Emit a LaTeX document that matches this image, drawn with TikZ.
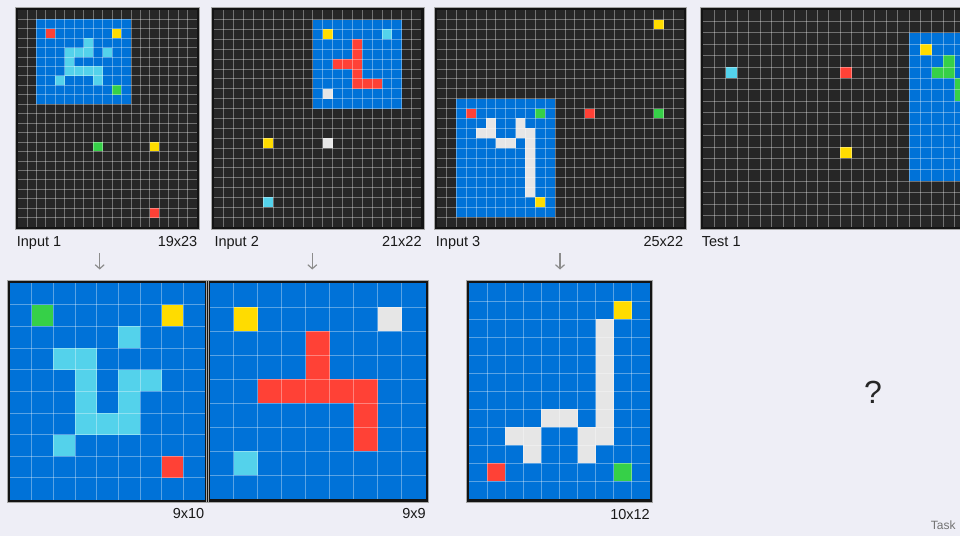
\documentclass[tikz,border=0pt]{standalone}
\usepackage{fontspec}
\setmainfont{Liberation Sans}
\usetikzlibrary{arrows.meta, positioning}
\definecolor{pagebg}{RGB}{238,238,246}
\definecolor{arcblack}{RGB}{38,38,38}
\definecolor{arcblue}{RGB}{0,114,216}
\definecolor{arcred}{RGB}{255,65,54}
\definecolor{arcgreen}{RGB}{54,208,72}
\definecolor{arcyellow}{RGB}{255,220,0}
\definecolor{arccyan}{RGB}{84,210,235}
\definecolor{arcgrey}{RGB}{230,230,230}
\definecolor{framedark}{RGB}{20,20,20}
\definecolor{arrowgrey}{RGB}{140,140,140}
\tikzset{
  gridline/.style={white, opacity=0.35, line width=0.8pt},
  inbox/.style={rectangle, draw=framedark, line width=2.4pt, inner sep=0pt},
  outbox/.style={rectangle, draw=framedark, line width=3pt, inner sep=0pt},
  rim/.style={draw=black!35, line width=0.6pt},
  lbl/.style={font=\fontsize{14.5}{16}\selectfont, text=black!90, inner sep=0pt},
  tasklbl/.style={font=\fontsize{12}{14}\selectfont, text=black!55, inner sep=0pt},
  querylbl/.style={font=\fontsize{32}{36}\selectfont, text=black!85, inner sep=0pt},
  downarrow/.style={-{Straight Barb[length=4pt, width=9pt]}, line width=1.2pt, color=arrowgrey}
}
% cells of one colour, given as col/row
\newcommand{\cells}[2]{\foreach \c/\r in {#2} \fill[#1] (\c,\r) rectangle ++(1,1);}
% inner lines of a cols x rows grid
\newcommand{\cellgrid}[2]{%
  \pgfmathtruncatemacro{\lastc}{#1-1}%
  \pgfmathtruncatemacro{\lastr}{#2-1}%
  \foreach \i in {1,...,\lastc} \draw[gridline] (\i,0) -- (\i,#2);
  \foreach \j in {1,...,\lastr} \draw[gridline] (0,\j) -- (#1,\j);
}

\begin{document}
\begin{tikzpicture}[x=1pt, y=-1pt]
  \path[use as bounding box, fill=pagebg] (0,0) rectangle (960,536);
  \clip (0,0) rectangle (960,536);

  % Input 1
  \begin{scope}[shift={(17.5,9.7)}, x=9.45pt, y=-9.45pt]
    \fill[arcblack] (0,0) rectangle (19,23);
    \fill[arcblue] (2,1) rectangle (12,10);
    \cells{arcred}{3/2, 14/21}
    \cells{arcyellow}{10/2, 14/14}
    \cells{arcgreen}{10/8, 8/14}
    \cells{arccyan}{7/3, 5/4, 6/4, 7/4, 9/4, 5/5, 5/6, 6/6, 7/6, 8/6, 4/7, 8/7}
    \cellgrid{19}{23}
    \node[inbox, minimum width=181.95pt, minimum height=219.75pt] (in1) at (9.5,11.5) {};
  \end{scope}

  % Input 2
  \begin{scope}[shift={(214,9.7)}, x=9.88pt, y=-9.88pt]
    \fill[arcblack] (0,0) rectangle (21,22);
    \fill[arcblue] (10,1) rectangle (19,10);
    \cells{arcyellow}{11/2, 5/13}
    \cells{arccyan}{17/2, 5/19}
    \cells{arcgrey}{11/8, 11/13}
    \cells{arcred}{14/3, 14/4, 12/5, 13/5, 14/5, 14/6, 14/7, 15/7, 16/7}
    \cellgrid{21}{22}
    \node[inbox, minimum width=209.88pt, minimum height=219.76pt] (in2) at (10.5,11) {};
  \end{scope}

  % Input 3
  \begin{scope}[shift={(436.5,9.7)}, x=9.88pt, y=-9.88pt]
    \fill[arcblack] (0,0) rectangle (25,22);
    \fill[arcblue] (2,9) rectangle (12,21);
    \cells{arcyellow}{22/1, 10/19}
    \cells{arcred}{3/10, 15/10}
    \cells{arcgreen}{10/10, 22/10}
    \cells{arcgrey}{5/11, 8/11, 4/12, 5/12, 8/12, 9/12, 6/13, 7/13, 9/13, 9/14, 9/15, 9/16, 9/17, 9/18}
    \cellgrid{25}{22}
    \node[inbox, minimum width=249.4pt, minimum height=219.76pt] (in3) at (12.5,11) {};
  \end{scope}

  % Test 1
  \begin{scope}[shift={(703,9.7)}, x=11.44pt, y=-11.44pt]
    \fill[arcblack] (0,0) rectangle (24,19);
    \fill[arcblue] (18,2) rectangle (24,15);
    \cells{arccyan}{2/5}
    \cells{arcred}{12/5}
    \cells{arcyellow}{12/12, 19/3}
    \cells{arcgreen}{21/4, 20/5, 21/5, 22/6, 22/7}
    \cellgrid{24}{19}
    \node[inbox, minimum width=276.96pt, minimum height=219.76pt] (test1) at (12,9.5) {};
  \end{scope}

  % Output 1
  \begin{scope}[shift={(10,283)}, x=21.65pt, y=-21.65pt]
    \fill[arcblue] (0,0) rectangle (9,10);
    \cells{arcgreen}{1/1}
    \cells{arcyellow}{7/1}
    \cells{arcred}{7/8}
    \cells{arccyan}{5/2, 2/3, 3/3, 3/4, 5/4, 6/4, 3/5, 5/5, 3/6, 4/6, 5/6, 2/7}
    \cellgrid{9}{10}
    \node[outbox, minimum width=197.85pt, minimum height=219.5pt] (out1) at (4.5,5) {};
  \end{scope}

  % Output 2
  \begin{scope}[shift={(209.7,283)}, x=24pt, y=-24pt]
    \fill[arcblue] (0,0) rectangle (9,9);
    \cells{arcyellow}{1/1}
    \cells{arcgrey}{7/1}
    \cells{arccyan}{1/7}
    \cells{arcred}{4/2, 4/3, 2/4, 3/4, 4/4, 5/4, 6/4, 6/5, 6/6}
    \cellgrid{9}{9}
    \node[outbox, minimum width=219pt, minimum height=219pt] (out2) at (4.5,4.5) {};
  \end{scope}

  % Output 3
  \begin{scope}[shift={(469.3,283)}, x=18.04pt, y=-18.04pt]
    \fill[arcblue] (0,0) rectangle (10,12);
    \cells{arcyellow}{8/1}
    \cells{arcred}{1/10}
    \cells{arcgreen}{8/10}
    \cells{arcgrey}{7/2, 7/3, 7/4, 7/5, 7/6, 7/7, 7/8, 4/7, 5/7, 2/8, 3/8, 6/8, 3/9, 6/9}
    \cellgrid{10}{12}
    \node[outbox, minimum width=183.4pt, minimum height=219.48pt] (out3) at (5,6) {};
  \end{scope}

  % thin rims round the frames
  \foreach \g in {in1, in2, in3, test1, out1, out2, out3}
    \draw[rim] (\g.north west) rectangle (\g.south east);

  % Labels
  \node[lbl, anchor=base west] (lin1) at (16.7,246) {Input 1};
  \node[lbl, anchor=base east] (sin1) at (197.5,246) {19x23};
  \node[lbl, anchor=base west] (lin2) at (214.3,246) {Input 2};
  \node[lbl, anchor=base east] (sin2) at (421.8,246) {21x22};
  \node[lbl, anchor=base west] (lin3) at (435.7,246) {Input 3};
  \node[lbl, anchor=base east] (sin3) at (683.3,246) {25x22};
  \node[lbl, anchor=base west] (ltest) at (701.7,246) {Test 1};
  \node[lbl, anchor=base east] (sout1) at (204.5,518) {9x10};
  \node[lbl, anchor=base east] (sout2) at (426,518) {9x9};
  \node[lbl, anchor=base east] (sout3) at (650,519) {10x12};
  \node[querylbl] (query) at (873,392) {?};
  \node[tasklbl, anchor=base east] (task) at (955.7,529) {Task};

  % Arrows
  \coordinate (a1s) at (99.7,253);  \coordinate (a1e) at (99.7,269.5);
  \coordinate (a2s) at (312.3,253); \coordinate (a2e) at (312.3,269.5);
  \coordinate (a3s) at (560,253);   \coordinate (a3e) at (560,269.5);
  \draw[downarrow] (a1s) -- (a1e);
  \draw[downarrow] (a2s) -- (a2e);
  \draw[downarrow] (a3s) -- (a3e);
\end{tikzpicture}
\end{document}
